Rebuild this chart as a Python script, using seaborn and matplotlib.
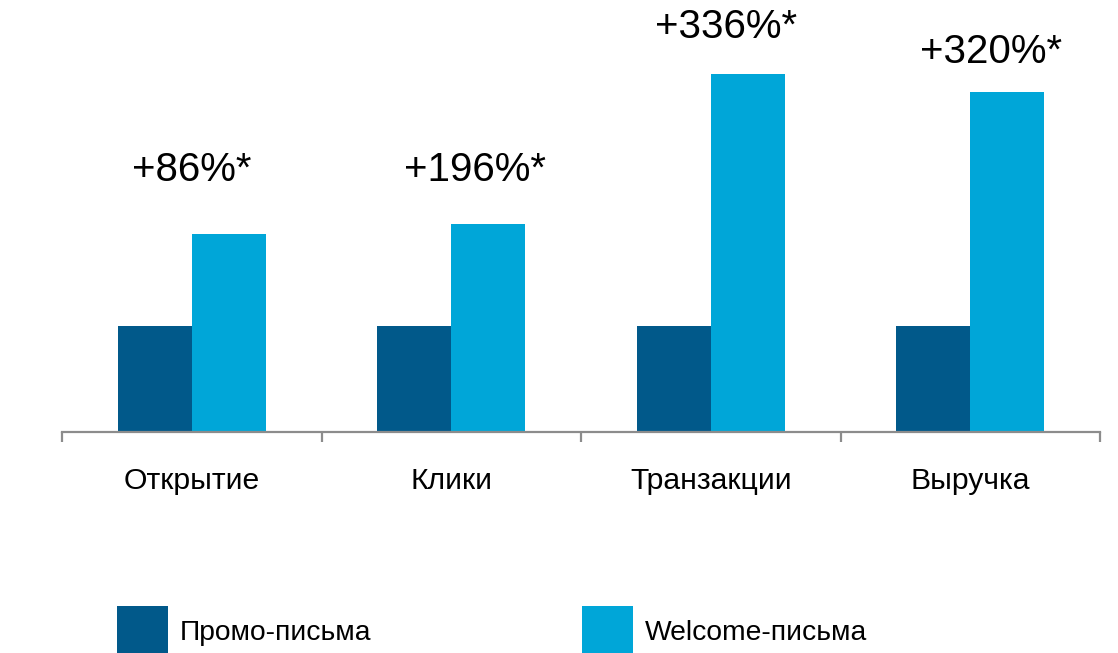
import matplotlib
matplotlib.use("Agg")
import matplotlib.pyplot as plt
import seaborn as sns
import pandas as pd
import numpy as np

categories = ["Открытие", "Клики", "Транзакции", "Выручка"]
series_names = ["Промо-письма", "Welcome-письма"]
promo_values = [100, 100, 100, 100]
welcome_values = [187, 196, 338, 321]
growth_labels = ["+86%*", "+196%*", "+336%*", "+320%*"]

# label placement (style only)
label_dx = [0.0, 0.09, 0.06, 0.08]
label_dy = [60, 51, 44, 37]

colors = ["#01598A", "#00A6D8"]

df = pd.DataFrame({
    "Категория": categories * 2,
    "Тип": [series_names[0]] * len(categories) + [series_names[1]] * len(categories),
    "Значение": promo_values + welcome_values,
})

sns.set_theme(style="white")
plt.rcParams["font.family"] = ["Liberation Sans", "DejaVu Sans"]
plt.rcParams["text.color"] = "black"

fig = plt.figure(figsize=(11.18, 6.53), dpi=100)
ax = fig.add_axes([62 / 1118, 1 - 432 / 653, (1100 - 62) / 1118, 432 / 653])

sns.barplot(data=df, x="Категория", y="Значение", hue="Тип", order=categories,
            hue_order=series_names, palette=colors, width=0.57, saturation=1,
            edgecolor="none", linewidth=0, ax=ax, legend=False)

ax.set_xlim(-0.5, len(categories) - 0.5)
ax.set_ylim(0, 407.5)
ax.set_xlabel("")
ax.set_ylabel("")
ax.set_yticks([])

for s in ["top", "right", "left"]:
    ax.spines[s].set_visible(False)
ax.spines["bottom"].set_color("#8c8c8c")
ax.spines["bottom"].set_linewidth(1.6)

ax.set_xticks(range(len(categories)))
ax.set_xticklabels(categories, fontsize=21.7, color="black")
ax.tick_params(axis="x", which="major", length=0, pad=25)
ax.set_xticks(np.arange(-0.5, len(categories), 1.0), minor=True)
ax.tick_params(axis="x", which="minor", length=7, width=1.6, color="#8c8c8c",
               direction="out", bottom=True)

for i, (v, lab) in enumerate(zip(welcome_values, growth_labels)):
    ax.text(i + label_dx[i], v + label_dy[i], lab, ha="center", va="center",
            fontsize=29, color="black", clip_on=False)

handles = [plt.Rectangle((0, 0), 1, 1, facecolor=c, edgecolor="none") for c in colors]
fig.legend(handles, series_names, loc="center left",
           bbox_to_anchor=(117 / 1118, 1 - 631 / 653), ncol=2, frameon=False,
           fontsize=20.3, handlelength=1.8, handleheight=2.3, handletextpad=0.42,
           columnspacing=7.48, borderpad=0, borderaxespad=0, labelcolor="black")

fig.savefig("out.png", dpi=100, facecolor="white")
